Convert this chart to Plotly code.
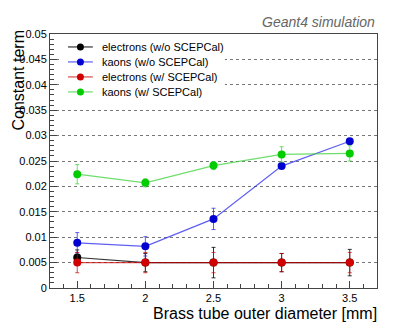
import plotly.graph_objects as go

# Data
diameter = [1.5, 2.0, 2.5, 3.0, 3.5]

ele_noscep = [0.0060, 0.0050, 0.0050, 0.0050, 0.0050]
ele_noscep_err = [0.0015, 0.0018, 0.0030, 0.0018, 0.0026]

kaon_noscep = [0.0089, 0.0082, 0.0136, 0.0240, 0.0289]
kaon_noscep_err = [0.0020, 0.0019, 0.0021, 0.0003, 0.0004]

ele_scep = [0.0050, 0.0050, 0.0050, 0.0050, 0.0050]
ele_scep_err = [0.0020, 0.0020, 0.0020, 0.0018, 0.0020]

kaon_scep = [0.0224, 0.0207, 0.0241, 0.0263, 0.0265]
kaon_scep_err = [0.0019, 0.0008, 0.0008, 0.0015, 0.0015]

series = [
    ("electrons (w/o SCEPCal)", ele_noscep, ele_noscep_err, "#000000", "rgba(0,0,0,0.8)"),
    ("kaons (w/o SCEPCal)", kaon_noscep, kaon_noscep_err, "#0000d0", "rgba(40,40,240,0.75)"),
    ("electrons (w/ SCEPCal)", ele_scep, ele_scep_err, "#d00000", "rgba(200,0,0,0.7)"),
    ("kaons (w/ SCEPCal)", kaon_scep, kaon_scep_err, "#00cc00", "rgba(60,210,60,0.75)"),
]

fig = go.Figure()
for name, y, err, mcol, lcol in series:
    fig.add_trace(go.Scatter(
        x=diameter, y=y, name=name, mode="lines+markers",
        line=dict(color=lcol, width=1.2),
        marker=dict(color=mcol, size=8),
        error_y=dict(type="data", array=err, color=lcol, thickness=1, width=2),
        showlegend=False,
    ))

# ROOT-style legend drawn by hand (tighter row spacing than plotly's own legend)
shapes = [dict(type="rect", xref="paper", yref="paper", x0=0.031, x1=0.535,
               y0=0.74, y1=0.984, fillcolor="white", line_width=0, layer="above")]
annotations = []
row_y = [0.949, 0.890, 0.831, 0.772]
for (name, y, err, mcol, lcol), ry in zip(series, row_y):
    shapes.append(dict(type="line", xref="paper", yref="paper", x0=0.055, x1=0.131,
                       y0=ry, y1=ry, line=dict(color=lcol, width=1.2), layer="above"))
    shapes.append(dict(type="circle", xref="paper", yref="paper",
                       xsizemode="pixel", ysizemode="pixel", xanchor=0.093, yanchor=ry,
                       x0=-3.5, x1=3.5, y0=-3.5, y1=3.5,
                       fillcolor=mcol, line_width=0, layer="above"))
    annotations.append(dict(text=name, x=0.153, y=ry, xref="paper", yref="paper",
                            xanchor="left", yanchor="middle", showarrow=False,
                            font=dict(size=11)))

annotations += [
    dict(text="<i>Geant4 simulation</i>", x=1, y=1, xref="paper", yref="paper",
         xanchor="right", yanchor="bottom", yshift=2, showarrow=False,
         font=dict(size=14, color="#666")),
    dict(text="Brass tube outer diameter [mm]", x=1, y=0, xref="paper", yref="paper",
         xanchor="right", yanchor="middle", yshift=-25, xshift=2, showarrow=False,
         font=dict(size=16)),
    dict(text="Constant term", x=0, y=0.817, xref="paper", yref="paper",
         xanchor="center", yanchor="middle", xshift=-32, showarrow=False,
         textangle=-90, font=dict(size=16)),
]

font = "Liberation Sans, Arial, sans-serif"
# page body adds an 8px margin, so the figure is 8px smaller on each axis
fig.update_layout(
    width=411, height=323,
    margin=dict(l=42, r=42, t=26, b=43),
    paper_bgcolor="white", plot_bgcolor="white",
    font=dict(family=font, size=11, color="black"),
    showlegend=False,
    xaxis=dict(range=[1.3, 3.7], dtick=0.5, tick0=1.5, showgrid=False,
               zeroline=False, showline=True, linecolor="#444", linewidth=1,
               mirror=True, ticks="inside", ticklen=7, tickcolor="#444",
               minor=dict(dtick=0.1, ticks="inside", ticklen=4, tickcolor="#444"),
               tickfont=dict(size=11)),
    yaxis=dict(range=[0, 0.05], dtick=0.005, showgrid=True, gridcolor="#777",
               griddash="dot", gridwidth=1, zeroline=False, showline=True,
               linecolor="#444", linewidth=1, mirror=True,
               ticks="inside", ticklen=7, tickcolor="#444",
               minor=dict(dtick=0.001, ticks="inside", ticklen=4, tickcolor="#444"),
               tickfont=dict(size=11)),
    shapes=shapes,
    annotations=annotations,
)

fig.write_html("out.html")
